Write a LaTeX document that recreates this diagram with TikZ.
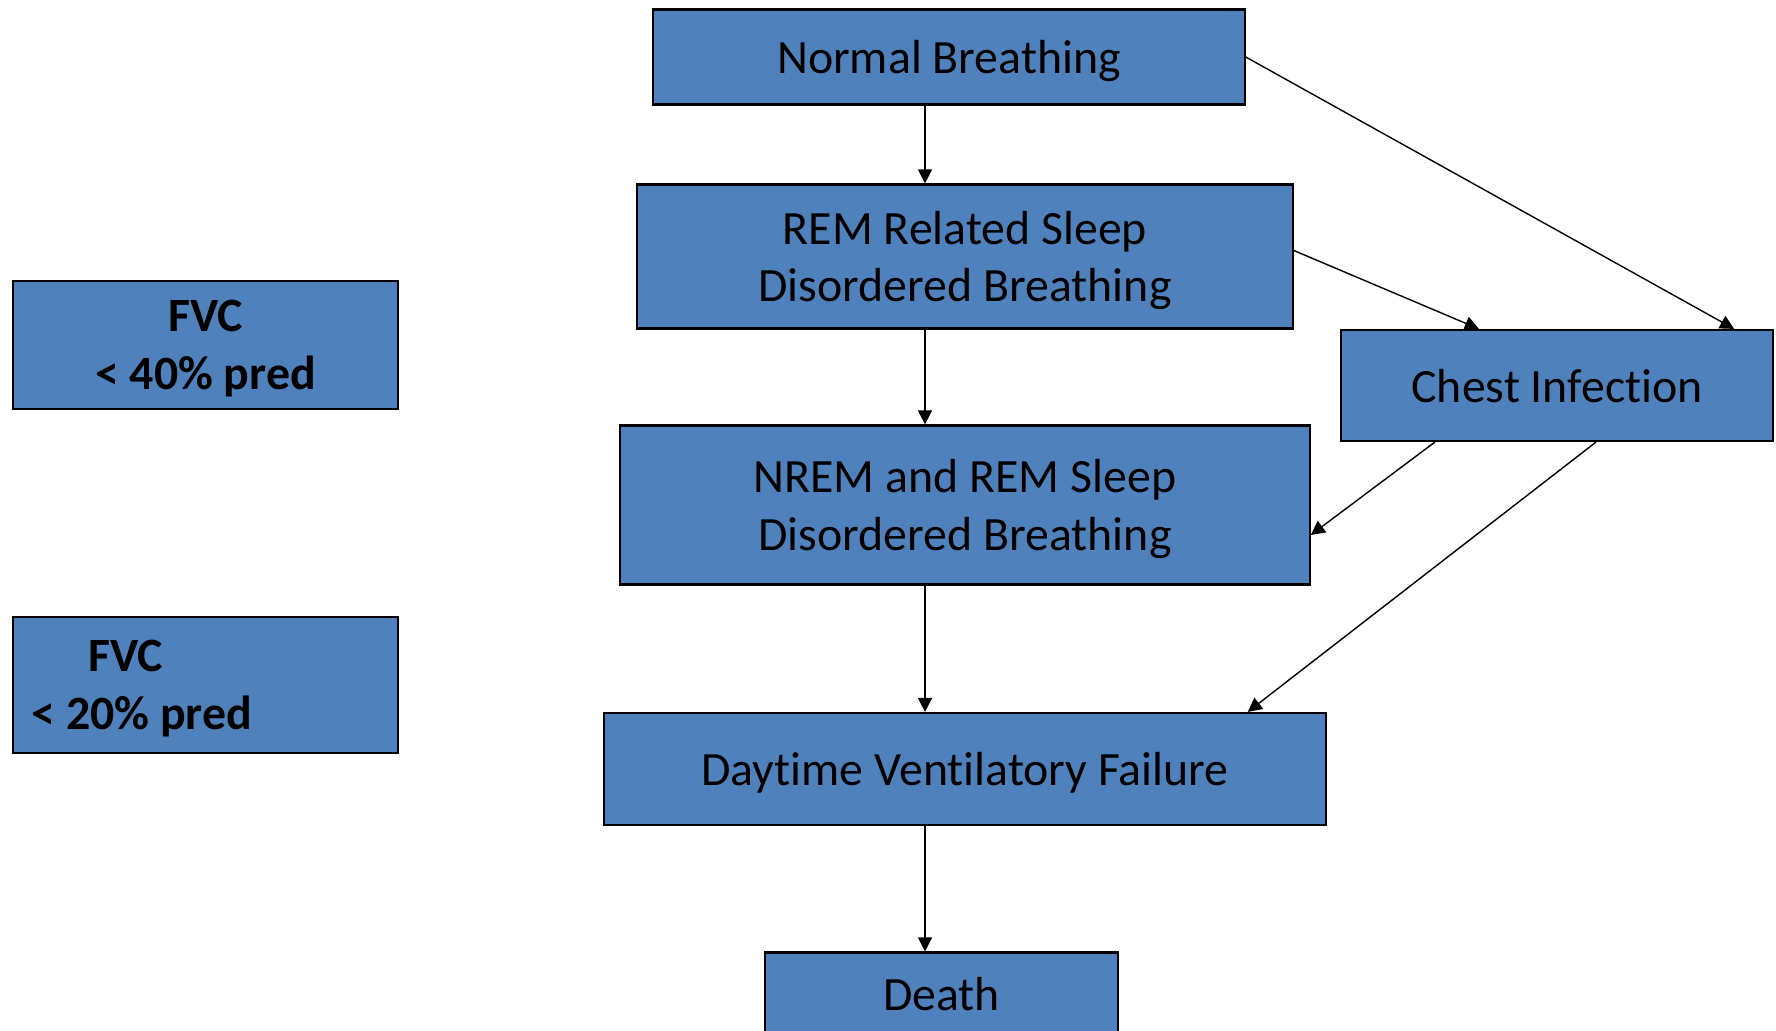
\documentclass[tikz,border=0pt]{standalone}
\usepackage{fontspec}
\setmainfont{Carlito}[Ligatures=CommonOff]
\usepackage{tikz}
\usetikzlibrary{positioning,arrows.meta}
\definecolor{boxblue}{RGB}{79,129,189}

\begin{document}
\begin{tikzpicture}[x=0.01cm, y=-0.01cm, box/.style={draw, fill=boxblue, line width=0.6pt, rectangle, inner sep=0pt, text depth=0pt, align=center, font=\fontsize{13.6}{16.4}\selectfont}, boldbox/.style={box, font=\fontsize{13.6}{16.4}\selectfont\bfseries}, link/.style={line width=0.4pt, -{Triangle[length=4pt,width=4pt]}}]
  \useasboundingbox (0,0) rectangle (1776,1031);
  \clip (0,0) rectangle (1776,1031);
  \node[box,minimum width=5.91cm,minimum height=0.95cm] (normal) at (949,57) {Normal Breathing};
  \node[box,minimum width=6.55cm,minimum height=1.44cm] (rem) at (965,256.5) {REM Related Sleep\\Disordered Breathing};
  \node[box,minimum width=6.89cm,minimum height=1.59cm] (nrem) at (965,505) {NREM and REM Sleep\\Disordered Breathing};
  \node[box,minimum width=7.21cm,minimum height=1.12cm] (daytime) at (965,769) {Daytime Ventilatory Failure};
  \node[box,minimum width=3.52cm,minimum height=0.82cm] (death) at (941.5,993.5) {Death};
  \node[box,minimum width=4.32cm,minimum height=1.11cm] (chest) at (1557,385.5) {Chest Infection};
  \node[boldbox,minimum width=3.85cm,minimum height=1.28cm] (fvchigh) at (205.5,345) {FVC\\< 40\% pred};
  \node[boldbox,align=flush left,text width=3.48cm,inner xsep=0.185cm,text depth=16.4pt,minimum height=1.36cm] (fvclow) at (205.5,685) {\hspace*{0.567cm}FVC\\< 20\% pred};
  \coordinate (spine) at (925,0);
  \draw[link] (normal.south -| spine) -- (rem.north -| spine);
  \draw[link] (rem.south -| spine) -- (nrem.north -| spine);
  \draw[link] (nrem.south -| spine) -- (daytime.north -| spine);
  \draw[link] (daytime.south -| spine) -- (death.north -| spine);
  \draw[link] (normal.east) -- ([xshift=-0.4cm]chest.north east);
  \draw[link] ([yshift=0.06cm]rem.east) -- ([xshift=1.39cm]chest.north west);
  \draw[link] ([xshift=0.95cm]chest.south west) -- ([yshift=-0.3cm]nrem.east);
  \draw[link] ([xshift=2.56cm]chest.south west) -- ([xshift=-0.79cm]daytime.north east);
\end{tikzpicture}
\end{document}
